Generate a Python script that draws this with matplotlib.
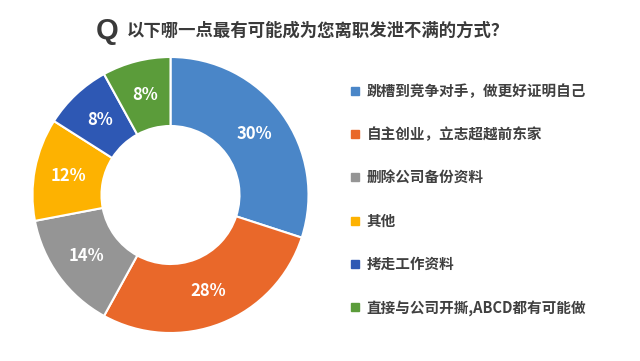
import matplotlib
matplotlib.use("Agg")
import matplotlib.pyplot as plt
from matplotlib.lines import Line2D

plt.rcParams['font.family'] = ['Noto Sans CJK SC', 'DejaVu Sans']

categories = ["跳槽到竞争对手，做更好证明自己", "自主创业，立志超越前东家", "删除公司备份资料",
              "其他", "拷走工作资料", "直接与公司开撕,ABCD都有可能做"]
values = [30, 28, 14, 12, 8, 8]
colors = ['#4a86c8', '#e9682a', '#959595', '#fdb201', '#2e58b4', '#5b9c3a']
title = "以下哪一点最有可能成为您离职发泄不满的方式？"

W, H = 640, 361
fig = plt.figure(figsize=(W / 100, H / 100), dpi=100)
fig.patch.set_facecolor('white')

cx, cy, r = 170.5, 195, 138
ax = fig.add_axes([(cx - r) / W, (H - cy - r) / H, 2 * r / W, 2 * r / H])
wedges, texts, autotexts = ax.pie(
    values, colors=colors, startangle=90, counterclock=False, radius=1,
    autopct=lambda p: f"{p:.0f}%", pctdistance=0.75,
    wedgeprops=dict(width=0.5, edgecolor='white', linewidth=1.5),
    textprops=dict(color='white', fontsize=12, fontweight='bold'))
ax.set_xlim(-1, 1)
ax.set_ylim(-1, 1)
ax.set_aspect('equal')
ax.axis('off')

fig.text(96 / W, 1 - 31 / H, "Q", fontsize=21, fontweight='bold', color='#3a3a3a',
         va='center', ha='left', family=['Liberation Sans'])
fig.text(127 / W, 1 - 31 / H, title, fontsize=12.5, fontweight='bold', color='#3a3a3a',
         va='center', ha='left')

handles = [Line2D([0], [0], marker='s', linestyle='none', markersize=5.5,
                  markerfacecolor=c, markeredgecolor=c) for c in colors]
leg = fig.legend(handles, categories, loc='upper left',
                 bbox_to_anchor=(345 / W, 1 - 77 / H), frameon=False,
                 fontsize=10.5, labelspacing=1.87, handlelength=0.6,
                 handletextpad=0.5, borderaxespad=0)
for t in leg.get_texts():
    t.set_color('#404040')
    t.set_fontweight('bold')

fig.savefig('out.png', dpi=100, facecolor='white')
